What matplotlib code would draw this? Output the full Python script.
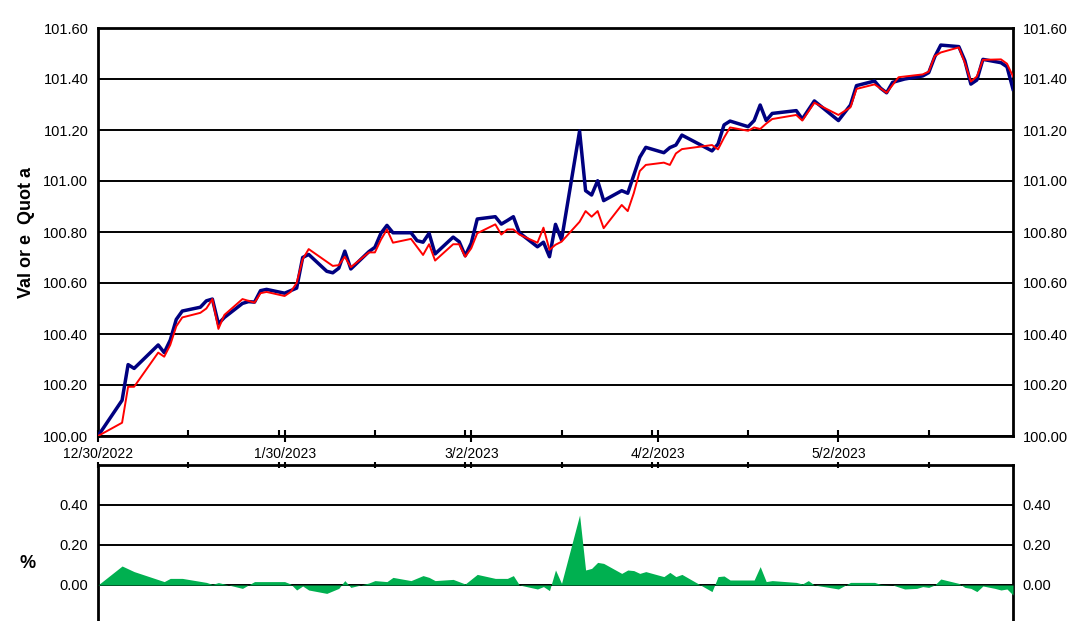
import matplotlib
matplotlib.use('Agg')
import matplotlib.pyplot as plt
import pandas as pd

plt.rcParams['font.family'] = ['Liberation Sans', 'DejaVu Sans']

start = pd.Timestamp('2022-12-30')
end = pd.Timestamp('2023-05-31')

# days after 12/30/2022 and values
quota_days = [0, 4, 5, 6, 10, 11, 12, 13, 14, 17, 18, 19, 20, 21, 24, 25, 26, 27, 28,
              31, 32, 33, 34, 35, 38, 39, 40, 41, 42, 45, 46, 47, 48, 49, 52, 53, 54,
              55, 56, 59, 60, 61, 62, 63, 66, 67, 68, 69, 70, 73, 74, 75, 76, 77, 80,
              81, 82, 83, 84, 87, 88, 90, 91, 94, 95, 96, 97, 102, 103, 104, 105, 108,
              109, 110, 111, 112, 116, 117, 119, 123, 125, 126, 129, 130, 131, 132, 134,
              137, 138, 139, 140, 143, 144, 145, 146, 147, 150, 151, 152]
quota_vals = [100.00, 100.14, 100.28, 100.265, 100.357, 100.327, 100.376, 100.457, 100.49,
              100.505, 100.53, 100.537, 100.44, 100.465, 100.52, 100.527, 100.525, 100.57,
              100.575, 100.56, 100.57, 100.58, 100.70, 100.712, 100.646, 100.64, 100.658,
              100.725, 100.655, 100.723, 100.74, 100.795, 100.826, 100.797, 100.797,
              100.766, 100.76, 100.795, 100.714, 100.78, 100.762, 100.707, 100.756,
              100.851, 100.86, 100.831, 100.845, 100.86, 100.797, 100.742, 100.76,
              100.703, 100.83, 100.769, 101.196, 100.962, 100.945, 101.001, 100.923,
              100.962, 100.952, 101.093, 101.132, 101.111, 101.131, 101.141, 101.18,
              101.118, 101.145, 101.22, 101.235, 101.213, 101.237, 101.298, 101.237,
              101.265, 101.276, 101.243, 101.314, 101.237, 101.298, 101.374, 101.392,
              101.364, 101.346, 101.387, 101.40, 101.412, 101.425, 101.487, 101.533,
              101.527, 101.472, 101.38, 101.396, 101.477, 101.464, 101.448, 101.36]

bench_days = [0, 4, 5, 6, 10, 11, 12, 13, 14, 17, 18, 19, 20, 21, 24, 25, 26, 27, 28,
              31, 32, 33, 34, 35, 39, 40, 41, 42, 45, 46, 47, 48, 49, 52, 54, 55, 56,
              59, 60, 61, 62, 63, 66, 67, 68, 69, 70, 73, 74, 75, 76, 77, 80, 81, 82,
              83, 84, 87, 88, 89, 90, 91, 94, 95, 96, 97, 102, 103, 104, 105, 108, 109,
              110, 111, 112, 116, 117, 119, 123, 125, 126, 129, 130, 131, 133, 137, 138,
              139, 140, 143, 144, 145, 146, 147, 150, 151, 152]
bench_vals = [100.00, 100.052, 100.193, 100.193, 100.327, 100.311, 100.357, 100.43,
              100.465, 100.483, 100.50, 100.537, 100.42, 100.475, 100.537, 100.53,
              100.523, 100.56, 100.565, 100.549, 100.565, 100.60, 100.693, 100.733,
              100.667, 100.67, 100.703, 100.662, 100.72, 100.72, 100.77, 100.81,
              100.758, 100.773, 100.71, 100.752, 100.688, 100.752, 100.752, 100.703,
              100.736, 100.795, 100.83, 100.79, 100.81, 100.81, 100.79, 100.758,
              100.817, 100.73, 100.75, 100.762, 100.84, 100.882, 100.86, 100.882,
              100.815, 100.906, 100.882, 100.952, 101.039, 101.063, 101.072, 101.063,
              101.108, 101.125, 101.141, 101.124, 101.17, 101.21, 101.197, 101.21,
              101.204, 101.225, 101.243, 101.259, 101.237, 101.307, 101.259, 101.289,
              101.361, 101.379, 101.363, 101.346, 101.407, 101.418, 101.429, 101.49,
              101.504, 101.524, 101.464, 101.39, 101.41, 101.475, 101.477, 101.46,
              101.41]

diff_days = [0, 4, 6, 11, 12, 14, 18, 19, 20, 21, 24, 26, 31, 32, 33, 34, 35, 38, 40,
             41, 42, 45, 46, 48, 49, 52, 54, 55, 56, 59, 61, 63, 66, 68, 69, 70, 73, 74,
             75, 76, 77, 80, 81, 82, 83, 84, 87, 88, 89, 90, 91, 94, 95, 96, 97, 102,
             103, 104, 105, 109, 110, 111, 112, 116, 117, 118, 119, 123, 125, 129, 130,
             132, 134, 136, 137, 138, 139, 140, 143, 144, 145, 146, 147, 149, 150, 151,
             152]
diff_vals = [0.0, 0.095, 0.067, 0.017, 0.033, 0.033, 0.013, 0.003, 0.012, 0.005, -0.017,
             0.017, 0.017, 0.005, -0.025, -0.005, -0.025, -0.042, -0.017, 0.022, -0.012,
             0.01, 0.022, 0.017, 0.038, 0.022, 0.047, 0.038, 0.022, 0.028, 0.005, 0.053,
             0.033, 0.033, 0.047, 0.0, -0.02, -0.008, -0.028, 0.075, 0.008, 0.35, 0.075,
             0.083, 0.113, 0.108, 0.058, 0.075, 0.072, 0.058, 0.067, 0.042, 0.063, 0.042,
             0.053, -0.033, 0.042, 0.045, 0.025, 0.025, 0.092, 0.017, 0.022, 0.013,
             0.005, 0.022, 0.0, -0.02, 0.013, 0.013, 0.003, 0.0, -0.02, -0.017, -0.008,
             -0.012, 0.0, 0.03, 0.008, -0.012, -0.017, -0.033, -0.005, -0.017, -0.025,
             -0.02, -0.05]

label_dates = ['2022-12-30', '2023-01-30', '2023-03-02', '2023-04-02', '2023-05-02']
minor_dates = ['2023-01-14', '2023-01-29', '2023-02-14', '2023-03-01', '2023-03-17',
               '2023-04-01', '2023-04-17', '2023-05-17']


def to_dates(days):
    return start + pd.to_timedelta(days, unit='D')


fig = plt.figure(figsize=(10.7, 6.21), dpi=100)
ax = fig.add_axes([98 / 1070, 1 - 436 / 621, 915 / 1070, 408 / 621])
ax2 = fig.add_axes([98 / 1070, 1 - 625 / 621, 915 / 1070, 160 / 621])

# top panel
ax.plot(to_dates(quota_days), quota_vals, color='#000080', lw=2.5, zorder=3)
ax.plot(to_dates(bench_days), bench_vals, color='#ff0000', lw=1.4, zorder=4)
ax.set_xlim(start, end)
ax.set_ylim(100.0, 101.6)
ax.set_yticks([100.0 + 0.2 * i for i in range(9)])
ax.yaxis.set_major_formatter(plt.FuncFormatter(lambda v, p: '%.2f' % v))
ax.yaxis.grid(True, color='black', lw=1.4)
ax.tick_params(axis='y', length=0, labelsize=10.5, pad=7, labelleft=True, labelright=True)

major = pd.to_datetime(label_dates)
ax.set_xticks(major)
ax.set_xticklabels([d.strftime('%-m/%-d/%Y') for d in major])
ax.set_xticks(pd.to_datetime(minor_dates), minor=True)
ax.tick_params(axis='x', which='major', direction='inout', length=8, width=1.5,
               labelsize=10, pad=4)
ax.tick_params(axis='x', which='minor', direction='in', length=4, width=1.5)
for s in ax.spines.values():
    s.set_linewidth(2)
ax.set_ylabel('Val or e  Quot a', fontsize=13, fontweight='bold', labelpad=6)

# bottom panel
ax2.fill_between(to_dates(diff_days), diff_vals, 0, color='#00b050', lw=0, zorder=3)
ax2.set_xlim(start, end)
ax2.set_ylim(-0.2, 0.6)
ax2.set_yticks([0.0, 0.2, 0.4])
ax2.yaxis.set_major_formatter(plt.FuncFormatter(lambda v, p: '%.2f' % v))
ax2.yaxis.grid(True, color='black', lw=1.4)
ax2.set_axisbelow(False)
ax2.tick_params(axis='y', length=0, labelsize=10.5, pad=7, labelleft=True, labelright=True)
ax2.xaxis.tick_top()
ax2.set_xticks(major)
ax2.set_xticks(pd.to_datetime(minor_dates), minor=True)
ax2.tick_params(axis='x', which='both', direction='inout', length=5, width=1.5,
                labeltop=False, labelbottom=False)
for s in ax2.spines.values():
    s.set_linewidth(2)
ax2.spines['bottom'].set_visible(False)
fig.text(28 / 1070, 1 - 563 / 621, '%', fontsize=13, fontweight='bold',
         ha='center', va='center')

fig.savefig('out.png', dpi=100)
